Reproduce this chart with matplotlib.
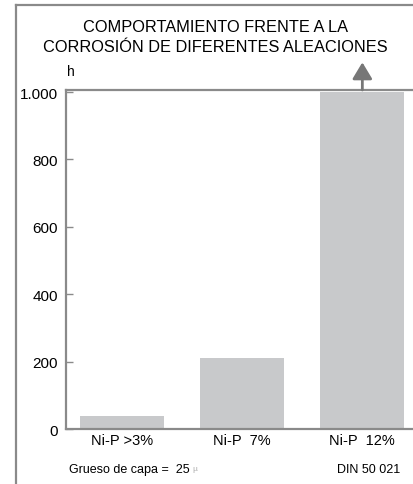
import matplotlib.pyplot as plt
from matplotlib.lines import Line2D

plt.rcParams['font.family'] = ['Liberation Sans', 'DejaVu Sans']

categories = ["Ni-P >3%", "Ni-P  7%", "Ni-P  12%"]
hours = [40, 210, 1000]
yticks = [0, 200, 400, 600, 800, 1000]
ytick_labels = ["0", "200", "400", "600", "800", "1.000"]

axis_grey = "#8a8a8a"
bar_grey = "#c8c9cb"

fig = plt.figure(figsize=(4.14, 4.85), dpi=100)
ax = fig.add_axes([0.1594, 0.1134, 0.8406, 0.699])

x = range(len(categories))
ax.bar(x, hours, width=0.7, color=bar_grey)
ax.set_xlim(-0.467, 2.43)
ax.set_ylim(0, 1006)

ax.set_yticks(yticks)
ax.set_yticklabels(ytick_labels, fontsize=11)
ax.set_xticks(list(x))
ax.set_xticklabels(categories, fontsize=10.5)
ax.tick_params(axis='y', direction='in', length=5, color=axis_grey, width=1, pad=6)
ax.tick_params(axis='x', length=0, pad=3)

for side in ["left", "top", "bottom"]:
    ax.spines[side].set_color(axis_grey)
    ax.spines[side].set_linewidth(1.6)
ax.spines["right"].set_visible(False)

# arrow above the top bar (value goes beyond the scale)
ax.annotate("", xy=(2, 1088), xytext=(2, 1006),
            arrowprops=dict(arrowstyle="-|>,head_length=0.5,head_width=0.3",
                            color="#777777", lw=2.0,
                            mutation_scale=20, shrinkA=0, shrinkB=0),
            annotation_clip=False)

# outer frame
fig.add_artist(Line2D([0.0386, 0.0386], [0, 0.988], color=axis_grey, lw=1.6))
fig.add_artist(Line2D([0.0386, 1.0], [0.988, 0.988], color=axis_grey, lw=1.6))

fig.text(0.52, 0.944, "COMPORTAMIENTO FRENTE A LA", ha="center", va="center", fontsize=11.8)
fig.text(0.52, 0.903, "CORROSIÓN DE DIFERENTES ALEACIONES", ha="center", va="center", fontsize=11.8)
fig.text(0.17, 0.851, "h", ha="center", va="center", fontsize=10)

fig.text(0.167, 0.031, "Grueso de capa =  25", ha="left", va="center", fontsize=9)
fig.text(0.465, 0.031, "µ", ha="left", va="center", fontsize=6, color="#b0b0b0")
fig.text(0.967, 0.031, "DIN 50 021", ha="right", va="center", fontsize=9)

fig.savefig("out.png", dpi=100)
